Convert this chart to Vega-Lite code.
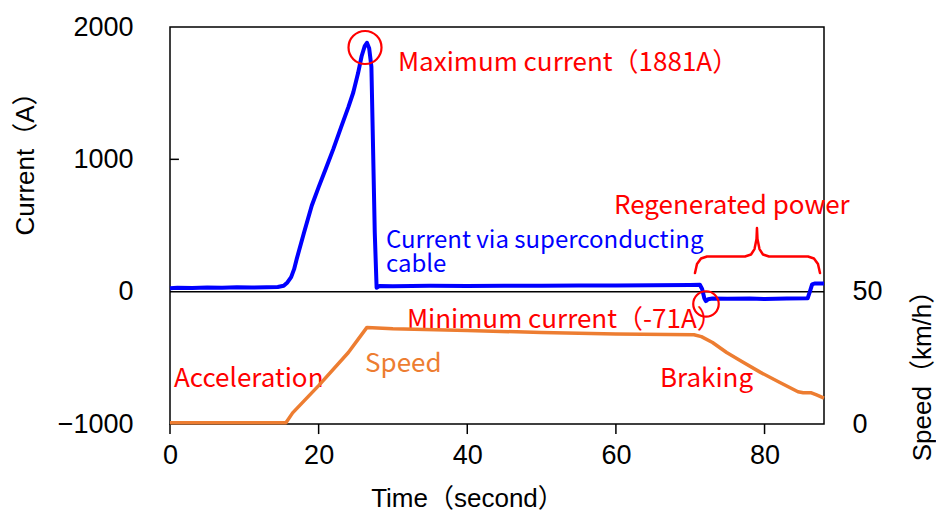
{
  "$schema": "https://vega.github.io/schema/vega-lite/v6.json",
  "width": 654,
  "height": 397,
  "autosize": {"type": "none"},
  "padding": {"left": 170, "top": 27, "right": 112, "bottom": 88},
  "config": {
    "view": {"stroke": "#000", "strokeWidth": 1.5},
    "axis": {
      "grid": false,
      "domain": false,
      "ticks": false,
      "labelFont": "Liberation Sans",
      "labelFontSize": 27,
      "labelColor": "#000",
      "labelFlush": false,
      "titleFont": "Liberation Sans, Noto Sans CJK JP",
      "titleFontSize": 26,
      "titleFontWeight": "normal",
      "titleColor": "#000"
    }
  },
  "encoding": {
    "x": {
      "field": "t",
      "type": "quantitative",
      "scale": {"domain": [0, 88], "nice": false, "zero": false},
      "axis": {
        "values": [0, 20, 40, 60, 80],
        "labelPadding": 18,
        "format": "d",
        "title": "Time（second）",
        "titleX": 297,
        "titleY": 74,
        "titleBaseline": "middle",
        "titleAlign": "center"
      }
    }
  },
  "layer": [
    {
      "encoding": {
        "y": {
          "field": "current",
          "type": "quantitative",
          "scale": {"domain": [-1000, 2000], "nice": false},
          "axis": {
            "values": [-1000, 0, 1000, 2000],
            "labelPadding": 37,
            "format": "d",
            "title": "Current（A）",
            "titleX": -145,
            "titleY": 130,
            "titleAngle": -90,
            "titleAlign": "center",
            "titleBaseline": "middle"
          }
        }
      },
      "layer": [
        {
          "data": {"values": [{"t": 0, "current": 0}, {"t": 88, "current": 0}]},
          "mark": {"type": "line", "color": "#000", "strokeWidth": 1.5}
        },
        {
          "data": {"values": [
            {"t": 0, "current": -1000, "tick": "0"}, {"t": 0, "current": -1076, "tick": "0"},
            {"t": 20, "current": -1000, "tick": "20"}, {"t": 20, "current": -1076, "tick": "20"},
            {"t": 40, "current": -1000, "tick": "40"}, {"t": 40, "current": -1076, "tick": "40"},
            {"t": 60, "current": -1000, "tick": "60"}, {"t": 60, "current": -1076, "tick": "60"},
            {"t": 80, "current": -1000, "tick": "80"}, {"t": 80, "current": -1076, "tick": "80"},
            {"t": 0, "current": 1000, "tick": "1000"}, {"t": 1.2, "current": 1000, "tick": "1000"}
          ]},
          "mark": {"type": "line", "color": "#000", "strokeWidth": 1.5, "clip": false},
          "encoding": {"detail": {"field": "tick"}, "order": {"field": "current"}}
        },
        {
          "data": {"values": [
            {"t": 0, "current": 25}, {"t": 1, "current": 30}, {"t": 3, "current": 28}, {"t": 5, "current": 32},
            {"t": 7, "current": 30}, {"t": 9, "current": 33}, {"t": 11, "current": 31}, {"t": 13, "current": 34},
            {"t": 14.5, "current": 35}, {"t": 15.3, "current": 45}, {"t": 15.8, "current": 70}, {"t": 16.3, "current": 110},
            {"t": 16.7, "current": 170}, {"t": 17.05, "current": 247}, {"t": 18, "current": 440}, {"t": 19.07, "current": 649},
            {"t": 20, "current": 790}, {"t": 21, "current": 935}, {"t": 21.97, "current": 1077}, {"t": 23, "current": 1240},
            {"t": 24, "current": 1395}, {"t": 24.66, "current": 1505}, {"t": 25.3, "current": 1650}, {"t": 25.79, "current": 1781},
            {"t": 26.2, "current": 1855}, {"t": 26.5, "current": 1881}, {"t": 26.8, "current": 1840}, {"t": 27.1, "current": 1700},
            {"t": 27.3, "current": 1150}, {"t": 27.55, "current": 450}, {"t": 27.8, "current": 30}, {"t": 28.2, "current": 42},
            {"t": 30, "current": 40}, {"t": 35, "current": 44}, {"t": 40, "current": 42}, {"t": 45, "current": 45},
            {"t": 50, "current": 44}, {"t": 55, "current": 47}, {"t": 60, "current": 46}, {"t": 65, "current": 48},
            {"t": 70, "current": 50}, {"t": 71.3, "current": 52}, {"t": 71.6, "current": 20}, {"t": 71.9, "current": -50},
            {"t": 72.1, "current": -71}, {"t": 72.4, "current": -58}, {"t": 73, "current": -52}, {"t": 75, "current": -54},
            {"t": 78, "current": -52}, {"t": 80, "current": -55}, {"t": 83, "current": -52}, {"t": 85.8, "current": -50},
            {"t": 86.1, "current": 0}, {"t": 86.4, "current": 55}, {"t": 86.8, "current": 62}, {"t": 88, "current": 62}
          ]},
          "mark": {"type": "line", "color": "#0000FF", "strokeWidth": 4, "strokeJoin": "round"}
        },
        {
          "data": {"values": [
            {"t": 70.64, "current": 141}, {"t": 70.91, "current": 209}, {"t": 71.45, "current": 251}, {"t": 72.26, "current": 266},
            {"t": 77.37, "current": 266}, {"t": 78.18, "current": 281}, {"t": 78.65, "current": 322}, {"t": 78.92, "current": 398},
            {"t": 78.98, "current": 481}, {"t": 79.05, "current": 398}, {"t": 79.32, "current": 322}, {"t": 79.79, "current": 281},
            {"t": 80.6, "current": 266}, {"t": 85.85, "current": 266}, {"t": 86.65, "current": 251}, {"t": 87.19, "current": 209},
            {"t": 87.46, "current": 141}
          ]},
          "mark": {"type": "line", "color": "#FF0000", "strokeWidth": 2.5, "strokeCap": "round", "strokeJoin": "round"}
        },
        {
          "data": {"values": [{"t": 26.24, "current": 1845}]},
          "mark": {"type": "point", "shape": "circle", "filled": false, "color": "#FF0000", "strokeWidth": 2.2, "size": 1089, "opacity": 1}
        },
        {
          "data": {"values": [{"t": 72.12, "current": -93}]},
          "mark": {"type": "point", "shape": "circle", "filled": false, "color": "#FF0000", "strokeWidth": 2.2, "size": 650, "opacity": 1}
        },
        {
          "data": {"values": [
            {"t": 30.68, "current": 1726, "label": "Maximum current（1881A）"},
            {"t": 59.74, "current": 647, "label": "Regenerated power"},
            {"t": 31.89, "current": -214, "label": "Minimum current（-71A）"},
            {"t": 0.54, "current": -659, "label": "Acceleration"},
            {"t": 65.93, "current": -659, "label": "Braking"}
          ]},
          "mark": {"type": "text", "align": "left", "baseline": "middle", "font": "Noto Sans CJK JP", "fontSize": 26, "color": "#FF0000"},
          "encoding": {"text": {"field": "label"}}
        },
        {
          "data": {"values": [
            {"t": 29.06, "current": 385, "label": "Current via superconducting\ncable"}
          ]},
          "mark": {"type": "text", "align": "left", "baseline": "middle", "font": "Noto Sans CJK JP", "fontSize": 24, "lineHeight": 24, "lineBreak": "\n", "color": "#0000FF"},
          "encoding": {"text": {"field": "label"}}
        },
        {
          "data": {"values": [{"t": 26.24, "current": -546, "label": "Speed"}]},
          "mark": {"type": "text", "align": "left", "baseline": "middle", "font": "Noto Sans CJK JP", "fontSize": 26, "color": "#ED7D31"},
          "encoding": {"text": {"field": "label"}}
        }
      ]
    },
    {
      "data": {"values": [
        {"t": 0, "speed": 0.5}, {"t": 15.6, "speed": 0.5}, {"t": 16.5, "speed": 4.2}, {"t": 20, "speed": 14.5},
        {"t": 24, "speed": 27}, {"t": 26.5, "speed": 36.5}, {"t": 30, "speed": 36.0}, {"t": 40, "speed": 35.3},
        {"t": 50, "speed": 34.6}, {"t": 60, "speed": 34.0}, {"t": 70.5, "speed": 33.7}, {"t": 71.5, "speed": 33.0},
        {"t": 73, "speed": 30.8}, {"t": 74.9, "speed": 27.0}, {"t": 77, "speed": 23.5}, {"t": 79.4, "speed": 19.6},
        {"t": 82, "speed": 15.8}, {"t": 84.5, "speed": 12.2}, {"t": 85.2, "speed": 11.8}, {"t": 86.3, "speed": 11.8},
        {"t": 87, "speed": 11.0}, {"t": 88, "speed": 9.8}
      ]},
      "mark": {"type": "line", "color": "#ED7D31", "strokeWidth": 3.5, "strokeJoin": "round"},
      "encoding": {
        "y": {
          "field": "speed",
          "type": "quantitative",
          "scale": {"domain": [0, 150], "nice": false},
          "axis": {
            "orient": "right",
            "values": [0, 50],
            "labelPadding": 28,
            "title": "Speed（km/h）",
            "titleX": 98,
            "titleY": 342,
            "titleAngle": -90,
            "titleAlign": "center",
            "titleBaseline": "middle"
          }
        }
      }
    }
  ],
  "resolve": {"scale": {"y": "independent"}}
}
